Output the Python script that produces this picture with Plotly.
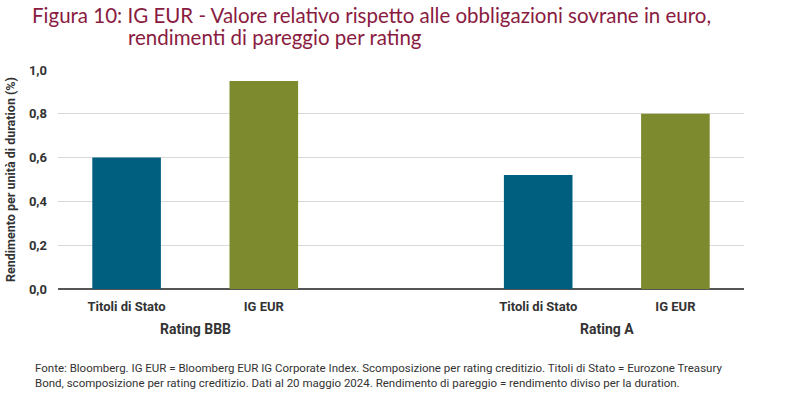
import plotly.graph_objects as go

categories = ["Titoli di Stato", "IG EUR", "Titoli di Stato", "IG EUR"]
positions = [0, 1, 3, 4]
values = [0.60, 0.95, 0.52, 0.80]
colors = ["#005F7F", "#7E8A2E", "#005F7F", "#7E8A2E"]
groups = ["Rating BBB", "Rating A"]
group_pos = [0.5, 3.5]
yticks = [0, 0.2, 0.4, 0.6, 0.8, 1.0]
ytick_labels = ["0,0", "0,2", "0,4", "0,6", "0,8", "1,0"]

axis_font = "Liberation Sans Narrow, Roboto, Arial Narrow, sans-serif"

fig = go.Figure()
fig.add_trace(go.Bar(x=positions, y=values, marker=dict(color=colors, line=dict(width=0)),
                     width=0.5, hoverinfo="x+y"))

fig.update_layout(
    width=800, height=398,
    margin=dict(l=58, r=56, t=70, b=109),
    plot_bgcolor="white", paper_bgcolor="white",
    showlegend=False,
    xaxis=dict(range=[-0.5, 4.5], tickmode="array", tickvals=positions, ticktext=categories,
               showgrid=False, zeroline=False, showline=False, ticks="", automargin=False,
               ticklabelstandoff=8,
               tickfont=dict(family=axis_font, size=13, color="#333333", weight="bold")),
    yaxis=dict(range=[0, 1.0], tickmode="array", tickvals=yticks, ticktext=ytick_labels,
               showgrid=True, gridcolor="#D9D9D9", gridwidth=1, automargin=False,
               zeroline=True, zerolinecolor="#555555", zerolinewidth=2,
               showline=False, ticks="", ticklabelstandoff=10,
               tickfont=dict(family=axis_font, size=13, color="#333333", weight="bold"),
               title=dict(text="Rendimento per unità di duration (%)", standoff=10,
                          font=dict(family=axis_font, size=12.5, color="#333333", weight="bold"))),
)

for g, p in zip(groups, group_pos):
    fig.add_annotation(x=p, y=-(329 - 289) / 219, xref="x", yref="paper", text=g, showarrow=False,
                       font=dict(family=axis_font, size=14, color="#333333", weight="bold"),
                       xanchor="center", yanchor="middle")

title_font = dict(family="Lato, Noto Sans, sans-serif", size=20.5, color="#8A1B41")
fig.add_annotation(xref="paper", yref="paper", x=(30 - 58) / 686, y=1 + (70 - 15) / 219,
                   text="Figura 10: IG EUR - Valore relativo rispetto alle obbligazioni sovrane in euro,",
                   showarrow=False, xanchor="left", yanchor="middle", font=title_font)
fig.add_annotation(xref="paper", yref="paper", x=(126 - 58) / 686, y=1 + (70 - 37) / 219,
                   text="rendimenti di pareggio per rating",
                   showarrow=False, xanchor="left", yanchor="middle", font=title_font)

foot_font = dict(family=axis_font, size=11.5, color="#333333")
fig.add_annotation(xref="paper", yref="paper", x=(33 - 58) / 686, y=-(368 - 289) / 219,
                   text="Fonte: Bloomberg. IG EUR = Bloomberg EUR IG Corporate Index. Scomposizione per rating creditizio. Titoli di Stato = Eurozone Treasury",
                   showarrow=False, xanchor="left", yanchor="middle", font=foot_font)
fig.add_annotation(xref="paper", yref="paper", x=(33 - 58) / 686, y=-(383 - 289) / 219,
                   text="Bond, scomposizione per rating creditizio. Dati al 20 maggio 2024. Rendimento di pareggio = rendimento diviso per la duration.",
                   showarrow=False, xanchor="left", yanchor="middle", font=foot_font)

fig.write_html("out.html", config={"displayModeBar": False},
               post_script="document.body.style.margin='0';document.body.style.overflow='hidden';")
